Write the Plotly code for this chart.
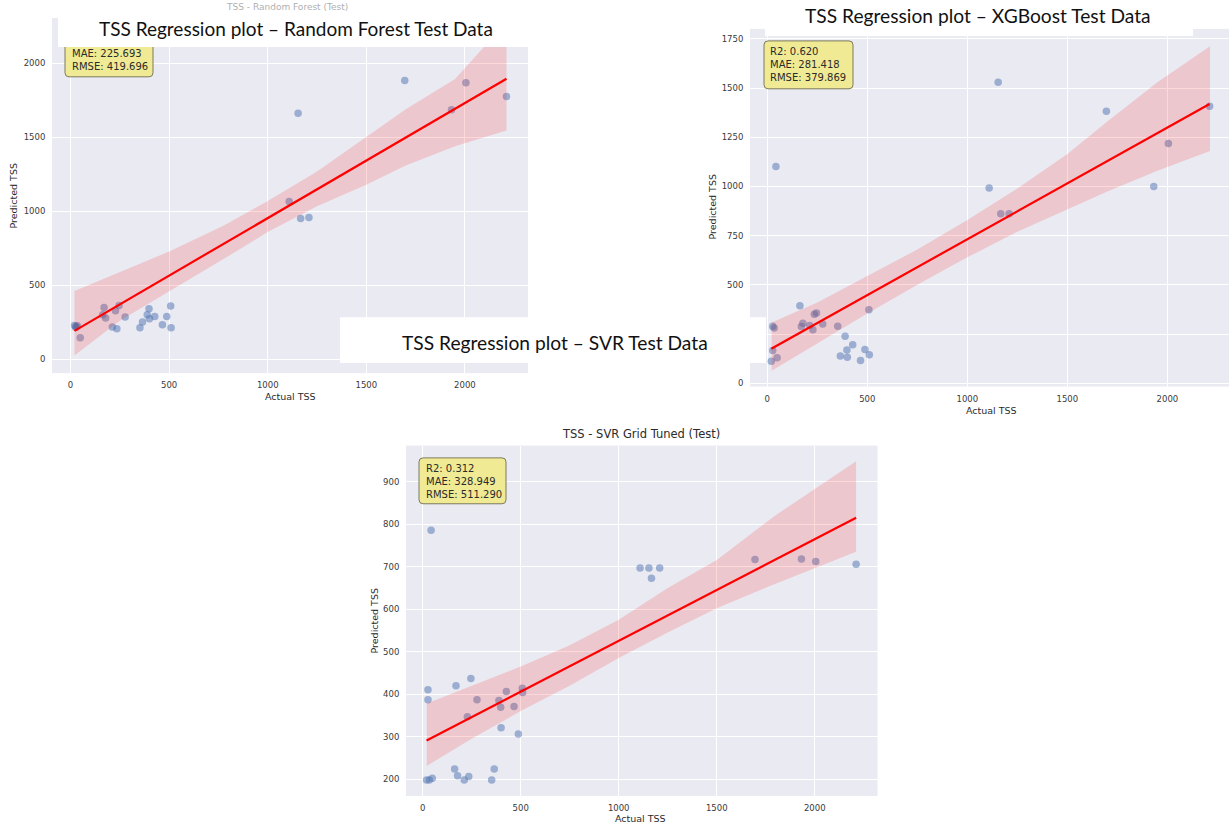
import numpy as np
import plotly.graph_objects as go

W, H = 1229, 827

# ---------------- data ----------------
actual = [20, 27, 27, 34, 43, 49,
          163, 170, 178, 212, 228, 235, 246, 277,
          352, 365, 389, 398, 400, 427, 466, 488, 508, 510,
          1109, 1154, 1167, 1209, 1695, 1932, 2005, 2211]

pred_rf = [228, 214, 220, 225, 2200, 145,
           300, 350, 278, 217, 327, 206, 363, 285,
           212, 251, 300, 341, 273, 289, 233, 289, 359, 212,
           1066, 1664, 951, 958, 1885, 1687, 1869, 1777]

pred_xgb = [112, 290, 166, 281, 1102, 129,
            394, 288, 305, 293, 272, 351, 357, 301,
            290, 139, 239, 169, 132, 196, 115, 171, 374, 145,
            993, 1530, 862, 862, 1382, 1000, 1218, 1408]

pred_svr = [198, 410, 387, 198, 786, 202,
            224, 420, 208, 198, 347, 206, 437, 387,
            198, 224, 385, 369, 321, 406, 371, 306, 414, 404,
            697, 697, 673, 697, 717, 718, 712, 706]

# 95% CI band edges of the regression line, read at a few x positions
band_x_rf = [20, 250, 500, 780, 1000, 1250, 1500, 1700, 1950, 2211]
band_lo_rf = [25, 260, 455, 680, 860, 1035, 1180, 1310, 1440, 1547]
band_hi_rf = [461, 590, 728, 905, 1070, 1270, 1505, 1690, 1895, 2280]

band_x_xgb = [22, 250, 500, 750, 1000, 1250, 1500, 1700, 1950, 2213]
band_lo_xgb = [64, 205, 355, 500, 640, 770, 885, 975, 1080, 1180]
band_hi_xgb = [309, 410, 545, 680, 830, 990, 1165, 1330, 1530, 1713]

band_x_svr = [21, 250, 500, 750, 1000, 1250, 1500, 1800, 2211]
band_lo_svr = [231, 295, 360, 420, 485, 545, 602, 660, 735]
band_hi_svr = [378, 420, 465, 515, 575, 650, 716, 821, 948]

metrics_rf = ["MAE: 225.693", "RMSE: 419.696"]
metrics_xgb = ["R2: 0.620", "MAE: 281.418", "RMSE: 379.869"]
metrics_svr = ["R2: 0.312", "MAE: 328.949", "RMSE: 511.290"]

x_ticks = [0, 500, 1000, 1500, 2000]
y_ticks_rf = [0, 500, 1000, 1500, 2000]
y_ticks_xgb = [0, 250, 500, 750, 1000, 1250, 1500, 1750]
y_ticks_svr = [200, 300, 400, 500, 600, 700, 800, 900]

titles_overlay = ["TSS Regression plot \u2013 Random Forest Test Data",
                  "TSS Regression plot \u2013 XGBoost Test Data",
                  "TSS Regression plot \u2013 SVR Test Data"]
title_svr = "TSS - SVR Grid Tuned (Test)"
title_rf_hidden = "TSS - Random Forest (Test)"


# ---------------- helpers ----------------
def X(p):
    return p / W


def Y(p):
    return 1 - p / H


BG = "#EAEAF2"
PT = "rgba(76,114,176,0.5)"
BAND = "rgba(255,0,0,0.15)"
TXT = "#2b2b2b"
FONT = "DejaVu Sans"

fig = go.Figure()


def add_panel(idx, preds, bx, blo, bhi):
    xa = "x" if idx == 1 else f"x{idx}"
    ya = "y" if idx == 1 else f"y{idx}"
    fig.add_trace(go.Scatter(x=actual, y=preds, mode="markers",
                             marker=dict(size=7.5, color=PT, line=dict(width=0)),
                             xaxis=xa, yaxis=ya, showlegend=False, hoverinfo="x+y"))
    fig.add_trace(go.Scatter(x=list(bx) + list(bx)[::-1], y=list(bhi) + list(blo)[::-1],
                             fill="toself", fillcolor=BAND, line=dict(width=0),
                             mode="lines", xaxis=xa, yaxis=ya, showlegend=False,
                             hoverinfo="skip"))
    slope, inter = np.polyfit(actual, preds, 1)
    lx = np.array([min(actual), max(actual)])
    fig.add_trace(go.Scatter(x=lx, y=slope * lx + inter, mode="lines",
                             line=dict(color="#ff0000", width=2.2),
                             xaxis=xa, yaxis=ya, showlegend=False))


add_panel(1, pred_rf, band_x_rf, band_lo_rf, band_hi_rf)
add_panel(2, pred_xgb, band_x_xgb, band_lo_xgb, band_hi_xgb)
add_panel(3, pred_svr, band_x_svr, band_lo_svr, band_hi_svr)

axis_common = dict(showgrid=True, gridcolor="white", gridwidth=1, zeroline=False,
                   showline=False, ticks="outside", ticklen=4,
                   tickcolor="rgba(0,0,0,0)",
                   tickfont=dict(family=FONT, size=8.5, color="#3a3a3a"))

# pixel boxes of each plot area
panels = {
    1: dict(x=(52, 528), y=(18, 374), xr=(-94, 2320), yr=(-94.5, 2308), yt=y_ticks_rf),
    2: dict(x=(750, 1229), y=(29, 387.5), xr=(-86.5, 2308), yr=(-17, 1801), yt=y_ticks_xgb),
    3: dict(x=(406, 877.5), y=(446.7, 798), xr=(-85, 2320), yr=(160, 985), yt=y_ticks_svr),
}
lay = {}
for i, p in panels.items():
    sx = "" if i == 1 else str(i)
    lay[f"xaxis{sx}"] = dict(axis_common, domain=[X(p["x"][0]), X(p["x"][1])],
                             range=list(p["xr"]), tickvals=x_ticks,
                             anchor=f"y{sx}")
    lay[f"yaxis{sx}"] = dict(axis_common, domain=[Y(p["y"][1]), Y(p["y"][0])],
                             range=list(p["yr"]), tickvals=p["yt"],
                             anchor=f"x{sx}")

shapes = []


def rrect(x0, y0, x1, y1, r):
    return (f"M {X(x0 + r)},{Y(y0)} L {X(x1 - r)},{Y(y0)} "
            f"Q {X(x1)},{Y(y0)} {X(x1)},{Y(y0 + r)} L {X(x1)},{Y(y1 - r)} "
            f"Q {X(x1)},{Y(y1)} {X(x1 - r)},{Y(y1)} L {X(x0 + r)},{Y(y1)} "
            f"Q {X(x0)},{Y(y1)} {X(x0)},{Y(y1 - r)} L {X(x0)},{Y(y0 + r)} "
            f"Q {X(x0)},{Y(y0)} {X(x0 + r)},{Y(y0)} Z")


for (x0, y0, x1, y1) in [(65, 28, 153, 77), (764, 41, 853, 89), (419, 459, 506, 505)]:
    shapes.append(dict(type="path", path=rrect(x0, y0, x1, y1, 4), xref="paper",
                       yref="paper", fillcolor="rgba(240,233,140,0.92)",
                       line=dict(color="#7d7a5a", width=1), layer="above"))

# white cover boxes of the slide titles
for (x0, y0, x1, y1) in [(58, 17, 528, 47), (765, 0, 1193, 36), (340, 318, 766, 364)]:
    shapes.append(dict(type="rect", x0=X(x0), x1=X(x1), y0=Y(y1), y1=Y(y0),
                       xref="paper", yref="paper", fillcolor="white",
                       line=dict(width=0), layer="above"))

ann = []


def text(x, y, t, size, color=TXT, family=FONT, xanchor="center", yanchor="middle",
         angle=0, align="center"):
    ann.append(dict(x=X(x), y=Y(y), xref="paper", yref="paper", text=t,
                    showarrow=False, xanchor=xanchor, yanchor=yanchor, textangle=angle,
                    align=align, font=dict(family=family, size=size, color=color),
                    borderpad=0))


# metric boxes text
text(70.5, 47.5, "<br>".join(metrics_rf), 10, xanchor="left", yanchor="top", align="left")
text(769, 45.5, "<br>".join(metrics_xgb), 10, xanchor="left", yanchor="top", align="left")
text(424.5, 462.8, "<br>".join(metrics_svr), 10, xanchor="left", yanchor="top", align="left")

# axis titles
text(290, 397, "Actual TSS", 9.5)
text(14, 197, "Predicted TSS", 9.5, angle=-90)
text(991, 411, "Actual TSS", 9.5)
text(712, 208, "Predicted TSS", 9.5, angle=-90)
text(641, 820, "Actual TSS", 9.5)
text(374, 623, "Predicted TSS", 9.5, angle=-90)

# chart titles
text(641, 435, title_svr, 11.5)
text(287, 1, title_rf_hidden, 9, color="#b0b0b0", yanchor="top")

# slide overlay titles
text(296, 29, titles_overlay[0], 19, color="#111111", family="Lato")
text(978, 16, titles_overlay[1], 19.2, color="#111111", family="Lato")
text(555, 343, titles_overlay[2], 19.2, color="#111111", family="Lato")

fig.update_layout(width=W, height=H, margin=dict(l=0, r=0, t=0, b=0),
                  paper_bgcolor="white", plot_bgcolor=BG, showlegend=False,
                  shapes=shapes, annotations=ann, **lay)

fig.write_html("out.html")
